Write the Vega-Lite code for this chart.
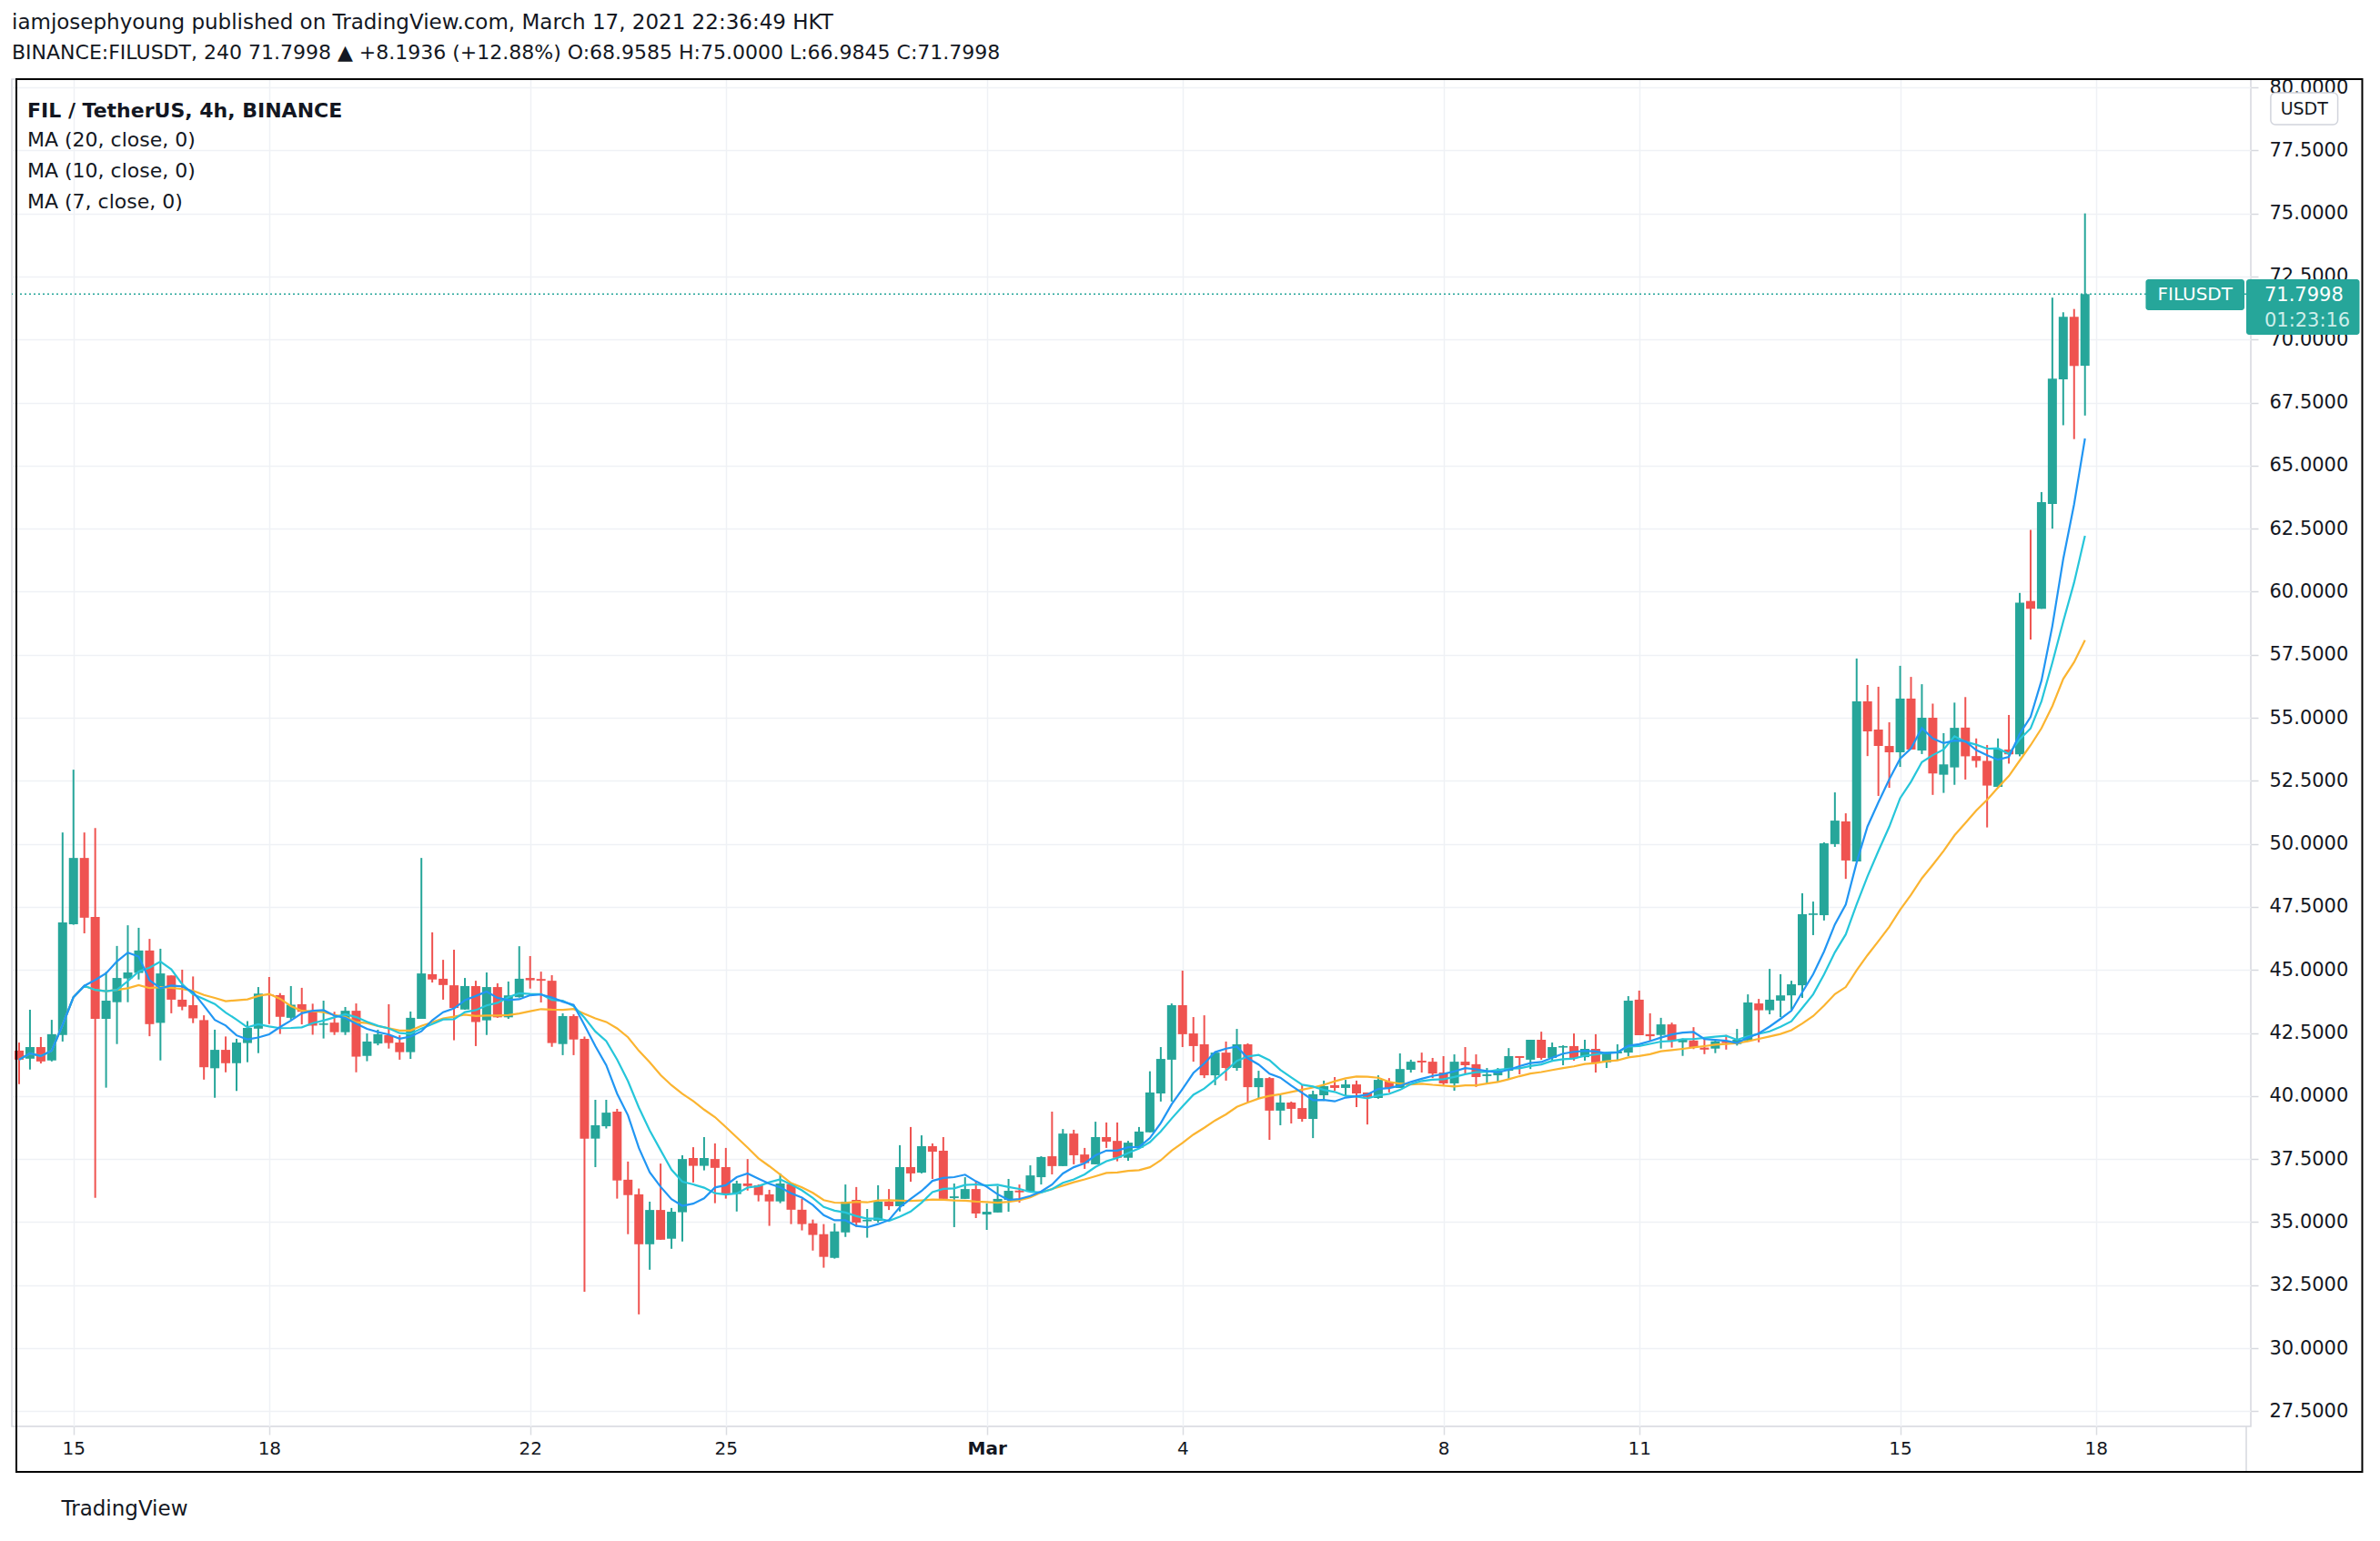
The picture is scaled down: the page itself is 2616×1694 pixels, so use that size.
{
  "$schema": "https://vega.github.io/schema/vega-lite/v6.json",
  "width": 2461,
  "height": 1481,
  "autosize": {"type": "none"},
  "padding": {"left": 13, "top": 87, "right": 142, "bottom": 126},
  "background": "#ffffff",
  "config": {
    "font": "DejaVu Sans",
    "view": {"stroke": "#d6d8de", "strokeWidth": 1.5},
    "axis": {"labelColor": "#131722", "labelFontSize": 20, "gridColor": "#eff1f5", "gridWidth": 1.5}
  },
  "title": {
    "text": "iamjosephyoung published on TradingView.com, March 17, 2021 22:36:49 HKT",
    "subtitle": "BINANCE:FILUSDT, 240 71.7998 ▲ +8.1936 (+12.88%) O:68.9585 H:75.0000 L:66.9845 C:71.7998",
    "anchor": "start",
    "frame": "group",
    "fontSize": 23,
    "fontWeight": "normal",
    "color": "#131722",
    "subtitleFontSize": 22,
    "subtitleColor": "#131722",
    "subtitleFontWeight": "normal",
    "offset": 16,
    "subtitlePadding": 11
  },
  "datasets": {
    "candles": [
      {"t": "2021-02-14T04:00Z", "o": 41.80, "h": 42.12, "l": 40.47, "c": 41.44},
      {"t": "2021-02-14T08:00Z", "o": 41.48, "h": 43.42, "l": 41.05, "c": 41.94},
      {"t": "2021-02-14T12:00Z", "o": 41.94, "h": 42.34, "l": 41.29, "c": 41.37},
      {"t": "2021-02-14T16:00Z", "o": 41.41, "h": 43.02, "l": 41.37, "c": 42.45},
      {"t": "2021-02-14T20:00Z", "o": 42.42, "h": 50.45, "l": 42.16, "c": 46.88},
      {"t": "2021-02-15T00:00Z", "o": 46.81, "h": 52.94, "l": 46.79, "c": 49.44},
      {"t": "2021-02-15T04:00Z", "o": 49.44, "h": 50.45, "l": 46.45, "c": 47.07},
      {"t": "2021-02-15T08:00Z", "o": 47.10, "h": 50.63, "l": 35.96, "c": 43.06},
      {"t": "2021-02-15T12:00Z", "o": 43.06, "h": 44.92, "l": 40.33, "c": 43.78},
      {"t": "2021-02-15T16:00Z", "o": 43.72, "h": 45.95, "l": 42.06, "c": 44.68},
      {"t": "2021-02-15T20:00Z", "o": 44.66, "h": 46.77, "l": 43.72, "c": 44.90},
      {"t": "2021-02-16T00:00Z", "o": 44.88, "h": 46.67, "l": 44.62, "c": 45.77},
      {"t": "2021-02-16T04:00Z", "o": 45.77, "h": 46.23, "l": 42.37, "c": 42.85},
      {"t": "2021-02-16T08:00Z", "o": 42.90, "h": 45.84, "l": 41.41, "c": 44.86},
      {"t": "2021-02-16T12:00Z", "o": 44.78, "h": 44.78, "l": 43.28, "c": 43.82},
      {"t": "2021-02-16T16:00Z", "o": 43.82, "h": 45.01, "l": 43.40, "c": 43.54},
      {"t": "2021-02-16T20:00Z", "o": 43.60, "h": 44.74, "l": 42.89, "c": 43.08},
      {"t": "2021-02-17T00:00Z", "o": 43.01, "h": 43.20, "l": 40.65, "c": 41.14},
      {"t": "2021-02-17T04:00Z", "o": 41.10, "h": 42.63, "l": 39.93, "c": 41.83},
      {"t": "2021-02-17T08:00Z", "o": 41.83, "h": 42.36, "l": 40.94, "c": 41.30},
      {"t": "2021-02-17T12:00Z", "o": 41.30, "h": 42.27, "l": 40.20, "c": 42.12},
      {"t": "2021-02-17T16:00Z", "o": 42.10, "h": 42.97, "l": 41.34, "c": 42.70},
      {"t": "2021-02-17T20:00Z", "o": 42.67, "h": 44.32, "l": 41.70, "c": 44.06},
      {"t": "2021-02-18T00:00Z", "o": 44.02, "h": 44.72, "l": 42.85, "c": 43.99},
      {"t": "2021-02-18T04:00Z", "o": 44.00, "h": 44.08, "l": 42.46, "c": 43.14},
      {"t": "2021-02-18T08:00Z", "o": 43.10, "h": 44.36, "l": 43.02, "c": 43.62},
      {"t": "2021-02-18T12:00Z", "o": 43.64, "h": 44.29, "l": 42.84, "c": 43.34},
      {"t": "2021-02-18T16:00Z", "o": 43.34, "h": 43.66, "l": 42.43, "c": 42.79},
      {"t": "2021-02-18T20:00Z", "o": 42.82, "h": 43.78, "l": 42.28, "c": 42.88},
      {"t": "2021-02-19T00:00Z", "o": 42.91, "h": 43.34, "l": 42.42, "c": 42.53},
      {"t": "2021-02-19T04:00Z", "o": 42.53, "h": 43.53, "l": 42.42, "c": 43.38},
      {"t": "2021-02-19T08:00Z", "o": 43.38, "h": 43.67, "l": 40.94, "c": 41.56},
      {"t": "2021-02-19T12:00Z", "o": 41.59, "h": 42.48, "l": 41.38, "c": 42.16},
      {"t": "2021-02-19T16:00Z", "o": 42.08, "h": 42.63, "l": 42.01, "c": 42.45},
      {"t": "2021-02-19T20:00Z", "o": 42.41, "h": 43.64, "l": 41.88, "c": 42.10},
      {"t": "2021-02-20T00:00Z", "o": 42.12, "h": 42.41, "l": 41.44, "c": 41.74},
      {"t": "2021-02-20T04:00Z", "o": 41.74, "h": 43.35, "l": 41.47, "c": 43.10},
      {"t": "2021-02-20T08:00Z", "o": 43.06, "h": 49.44, "l": 43.06, "c": 44.86},
      {"t": "2021-02-20T12:00Z", "o": 44.83, "h": 46.49, "l": 44.50, "c": 44.62},
      {"t": "2021-02-20T16:00Z", "o": 44.65, "h": 45.40, "l": 43.82, "c": 44.40},
      {"t": "2021-02-20T20:00Z", "o": 44.39, "h": 45.80, "l": 42.21, "c": 43.49},
      {"t": "2021-02-21T00:00Z", "o": 43.43, "h": 44.68, "l": 43.42, "c": 44.36},
      {"t": "2021-02-21T04:00Z", "o": 44.36, "h": 44.57, "l": 41.98, "c": 42.93},
      {"t": "2021-02-21T08:00Z", "o": 43.00, "h": 44.90, "l": 42.42, "c": 44.32},
      {"t": "2021-02-21T12:00Z", "o": 44.32, "h": 44.47, "l": 43.10, "c": 43.12},
      {"t": "2021-02-21T16:00Z", "o": 43.12, "h": 44.54, "l": 43.06, "c": 43.99},
      {"t": "2021-02-21T20:00Z", "o": 43.92, "h": 45.94, "l": 43.90, "c": 44.65},
      {"t": "2021-02-22T00:00Z", "o": 44.68, "h": 45.55, "l": 44.26, "c": 44.59},
      {"t": "2021-02-22T04:00Z", "o": 44.64, "h": 44.93, "l": 43.71, "c": 44.57},
      {"t": "2021-02-22T08:00Z", "o": 44.57, "h": 44.79, "l": 41.95, "c": 42.10},
      {"t": "2021-02-22T12:00Z", "o": 42.06, "h": 43.28, "l": 41.62, "c": 43.17},
      {"t": "2021-02-22T16:00Z", "o": 43.17, "h": 43.24, "l": 41.62, "c": 42.24},
      {"t": "2021-02-22T20:00Z", "o": 42.27, "h": 42.36, "l": 32.24, "c": 38.31},
      {"t": "2021-02-23T00:00Z", "o": 38.31, "h": 39.85, "l": 37.18, "c": 38.84},
      {"t": "2021-02-23T04:00Z", "o": 38.80, "h": 39.85, "l": 38.71, "c": 39.34},
      {"t": "2021-02-23T08:00Z", "o": 39.38, "h": 39.49, "l": 35.93, "c": 36.65},
      {"t": "2021-02-23T12:00Z", "o": 36.68, "h": 37.40, "l": 34.52, "c": 36.07},
      {"t": "2021-02-23T16:00Z", "o": 36.10, "h": 36.33, "l": 31.34, "c": 34.12},
      {"t": "2021-02-23T20:00Z", "o": 34.12, "h": 35.81, "l": 33.11, "c": 35.48},
      {"t": "2021-02-24T00:00Z", "o": 35.48, "h": 37.32, "l": 34.30, "c": 34.30},
      {"t": "2021-02-24T04:00Z", "o": 34.34, "h": 35.56, "l": 33.94, "c": 35.41},
      {"t": "2021-02-24T08:00Z", "o": 35.39, "h": 37.65, "l": 34.23, "c": 37.50},
      {"t": "2021-02-24T12:00Z", "o": 37.54, "h": 37.97, "l": 36.57, "c": 37.23},
      {"t": "2021-02-24T16:00Z", "o": 37.23, "h": 38.37, "l": 37.05, "c": 37.54},
      {"t": "2021-02-24T20:00Z", "o": 37.50, "h": 38.12, "l": 35.75, "c": 37.15},
      {"t": "2021-02-25T00:00Z", "o": 37.18, "h": 37.94, "l": 35.93, "c": 36.11},
      {"t": "2021-02-25T04:00Z", "o": 36.11, "h": 36.64, "l": 35.42, "c": 36.53},
      {"t": "2021-02-25T08:00Z", "o": 36.53, "h": 37.50, "l": 36.25, "c": 36.43},
      {"t": "2021-02-25T12:00Z", "o": 36.46, "h": 36.49, "l": 35.82, "c": 36.07},
      {"t": "2021-02-25T16:00Z", "o": 36.10, "h": 36.28, "l": 34.85, "c": 35.82},
      {"t": "2021-02-25T20:00Z", "o": 35.82, "h": 36.93, "l": 35.75, "c": 36.53},
      {"t": "2021-02-26T00:00Z", "o": 36.51, "h": 36.54, "l": 34.92, "c": 35.49},
      {"t": "2021-02-26T04:00Z", "o": 35.49, "h": 35.93, "l": 34.67, "c": 34.92},
      {"t": "2021-02-26T08:00Z", "o": 34.95, "h": 35.10, "l": 33.87, "c": 34.49},
      {"t": "2021-02-26T12:00Z", "o": 34.52, "h": 34.92, "l": 33.19, "c": 33.62},
      {"t": "2021-02-26T16:00Z", "o": 33.58, "h": 34.95, "l": 33.55, "c": 34.63},
      {"t": "2021-02-26T20:00Z", "o": 34.59, "h": 36.49, "l": 34.41, "c": 35.81},
      {"t": "2021-02-27T00:00Z", "o": 35.88, "h": 36.39, "l": 34.81, "c": 34.98},
      {"t": "2021-02-27T04:00Z", "o": 35.03, "h": 35.52, "l": 34.38, "c": 35.09},
      {"t": "2021-02-27T08:00Z", "o": 35.05, "h": 36.46, "l": 34.98, "c": 35.81},
      {"t": "2021-02-27T12:00Z", "o": 35.81, "h": 36.31, "l": 35.48, "c": 35.63},
      {"t": "2021-02-27T16:00Z", "o": 35.63, "h": 38.05, "l": 35.42, "c": 37.18},
      {"t": "2021-02-27T20:00Z", "o": 37.18, "h": 38.77, "l": 36.60, "c": 36.93},
      {"t": "2021-02-28T00:00Z", "o": 36.96, "h": 38.44, "l": 36.93, "c": 38.01},
      {"t": "2021-02-28T04:00Z", "o": 38.01, "h": 38.12, "l": 36.71, "c": 37.79},
      {"t": "2021-02-28T08:00Z", "o": 37.83, "h": 38.37, "l": 35.92, "c": 35.92},
      {"t": "2021-02-28T12:00Z", "o": 35.95, "h": 36.53, "l": 34.80, "c": 36.02},
      {"t": "2021-02-28T16:00Z", "o": 35.92, "h": 36.78, "l": 35.92, "c": 36.31},
      {"t": "2021-02-28T20:00Z", "o": 36.31, "h": 36.60, "l": 35.16, "c": 35.34},
      {"t": "2021-03-01T00:00Z", "o": 35.30, "h": 35.74, "l": 34.69, "c": 35.41},
      {"t": "2021-03-01T04:00Z", "o": 35.38, "h": 36.42, "l": 35.38, "c": 35.92},
      {"t": "2021-03-01T08:00Z", "o": 35.88, "h": 36.71, "l": 35.41, "c": 36.24},
      {"t": "2021-03-01T12:00Z", "o": 36.25, "h": 36.49, "l": 35.77, "c": 36.18},
      {"t": "2021-03-01T16:00Z", "o": 36.20, "h": 37.25, "l": 36.20, "c": 36.85},
      {"t": "2021-03-01T20:00Z", "o": 36.78, "h": 37.61, "l": 36.49, "c": 37.58},
      {"t": "2021-03-02T00:00Z", "o": 37.61, "h": 39.38, "l": 36.89, "c": 37.22},
      {"t": "2021-03-02T04:00Z", "o": 37.22, "h": 38.69, "l": 37.22, "c": 38.51},
      {"t": "2021-03-02T08:00Z", "o": 38.51, "h": 38.66, "l": 37.29, "c": 37.65},
      {"t": "2021-03-02T12:00Z", "o": 37.68, "h": 37.94, "l": 37.11, "c": 37.34},
      {"t": "2021-03-02T16:00Z", "o": 37.29, "h": 38.98, "l": 37.29, "c": 38.37},
      {"t": "2021-03-02T20:00Z", "o": 38.37, "h": 38.95, "l": 37.94, "c": 38.19},
      {"t": "2021-03-03T00:00Z", "o": 38.22, "h": 38.95, "l": 37.41, "c": 37.55},
      {"t": "2021-03-03T04:00Z", "o": 37.55, "h": 38.22, "l": 37.43, "c": 38.15},
      {"t": "2021-03-03T08:00Z", "o": 37.95, "h": 38.77, "l": 37.95, "c": 38.59},
      {"t": "2021-03-03T12:00Z", "o": 38.56, "h": 40.98, "l": 38.56, "c": 40.14},
      {"t": "2021-03-03T16:00Z", "o": 40.10, "h": 41.94, "l": 39.78, "c": 41.47},
      {"t": "2021-03-03T20:00Z", "o": 41.44, "h": 43.67, "l": 39.78, "c": 43.60},
      {"t": "2021-03-04T00:00Z", "o": 43.60, "h": 44.97, "l": 41.94, "c": 42.45},
      {"t": "2021-03-04T04:00Z", "o": 42.48, "h": 43.13, "l": 41.36, "c": 41.98},
      {"t": "2021-03-04T08:00Z", "o": 42.05, "h": 43.20, "l": 40.71, "c": 40.82},
      {"t": "2021-03-04T12:00Z", "o": 40.82, "h": 41.72, "l": 40.43, "c": 41.72},
      {"t": "2021-03-04T16:00Z", "o": 41.72, "h": 42.16, "l": 40.61, "c": 41.11},
      {"t": "2021-03-04T20:00Z", "o": 41.11, "h": 42.66, "l": 41.00, "c": 42.05},
      {"t": "2021-03-05T00:00Z", "o": 42.05, "h": 42.09, "l": 39.74, "c": 40.35},
      {"t": "2021-03-05T04:00Z", "o": 40.35, "h": 41.00, "l": 39.92, "c": 40.71},
      {"t": "2021-03-05T08:00Z", "o": 40.71, "h": 40.75, "l": 38.26, "c": 39.42},
      {"t": "2021-03-05T12:00Z", "o": 39.42, "h": 40.03, "l": 38.84, "c": 39.74},
      {"t": "2021-03-05T16:00Z", "o": 39.74, "h": 39.78, "l": 38.91, "c": 39.49},
      {"t": "2021-03-05T20:00Z", "o": 39.52, "h": 40.43, "l": 38.98, "c": 39.09},
      {"t": "2021-03-06T00:00Z", "o": 39.09, "h": 40.21, "l": 38.33, "c": 40.07},
      {"t": "2021-03-06T04:00Z", "o": 40.03, "h": 40.61, "l": 39.81, "c": 40.39},
      {"t": "2021-03-06T08:00Z", "o": 40.43, "h": 40.75, "l": 40.21, "c": 40.32},
      {"t": "2021-03-06T12:00Z", "o": 40.32, "h": 40.64, "l": 40.03, "c": 40.46},
      {"t": "2021-03-06T16:00Z", "o": 40.46, "h": 40.61, "l": 39.56, "c": 40.10},
      {"t": "2021-03-06T20:00Z", "o": 40.14, "h": 40.14, "l": 38.87, "c": 39.96},
      {"t": "2021-03-07T00:00Z", "o": 39.92, "h": 40.82, "l": 39.89, "c": 40.64},
      {"t": "2021-03-07T04:00Z", "o": 40.57, "h": 40.71, "l": 40.14, "c": 40.32},
      {"t": "2021-03-07T08:00Z", "o": 40.32, "h": 41.69, "l": 40.32, "c": 41.07},
      {"t": "2021-03-07T12:00Z", "o": 41.04, "h": 41.44, "l": 40.93, "c": 41.36},
      {"t": "2021-03-07T16:00Z", "o": 41.40, "h": 41.72, "l": 40.93, "c": 41.33},
      {"t": "2021-03-07T20:00Z", "o": 41.36, "h": 41.51, "l": 40.71, "c": 40.89},
      {"t": "2021-03-08T00:00Z", "o": 40.93, "h": 41.58, "l": 40.43, "c": 40.50},
      {"t": "2021-03-08T04:00Z", "o": 40.50, "h": 41.65, "l": 40.21, "c": 41.36},
      {"t": "2021-03-08T08:00Z", "o": 41.36, "h": 41.94, "l": 40.89, "c": 41.22},
      {"t": "2021-03-08T12:00Z", "o": 41.26, "h": 41.65, "l": 40.36, "c": 40.75},
      {"t": "2021-03-08T16:00Z", "o": 40.79, "h": 41.11, "l": 40.50, "c": 40.86},
      {"t": "2021-03-08T20:00Z", "o": 40.82, "h": 41.11, "l": 40.57, "c": 41.00},
      {"t": "2021-03-09T00:00Z", "o": 41.00, "h": 41.90, "l": 40.68, "c": 41.58},
      {"t": "2021-03-09T04:00Z", "o": 41.58, "h": 41.58, "l": 40.86, "c": 41.51},
      {"t": "2021-03-09T08:00Z", "o": 41.44, "h": 42.23, "l": 41.07, "c": 42.23},
      {"t": "2021-03-09T12:00Z", "o": 42.23, "h": 42.55, "l": 41.44, "c": 41.51},
      {"t": "2021-03-09T16:00Z", "o": 41.51, "h": 42.12, "l": 41.36, "c": 41.94},
      {"t": "2021-03-09T20:00Z", "o": 41.92, "h": 42.01, "l": 41.22, "c": 41.98},
      {"t": "2021-03-10T00:00Z", "o": 41.98, "h": 42.48, "l": 41.40, "c": 41.51},
      {"t": "2021-03-10T04:00Z", "o": 41.54, "h": 42.23, "l": 41.40, "c": 41.87},
      {"t": "2021-03-10T08:00Z", "o": 41.87, "h": 42.45, "l": 40.93, "c": 41.33},
      {"t": "2021-03-10T12:00Z", "o": 41.33, "h": 41.76, "l": 41.11, "c": 41.72},
      {"t": "2021-03-10T16:00Z", "o": 41.69, "h": 42.05, "l": 41.40, "c": 41.76},
      {"t": "2021-03-10T20:00Z", "o": 41.72, "h": 43.96, "l": 41.58, "c": 43.78},
      {"t": "2021-03-11T00:00Z", "o": 43.82, "h": 44.18, "l": 42.41, "c": 42.41},
      {"t": "2021-03-11T04:00Z", "o": 42.45, "h": 43.28, "l": 42.16, "c": 42.37},
      {"t": "2021-03-11T08:00Z", "o": 42.42, "h": 43.10, "l": 41.88, "c": 42.84},
      {"t": "2021-03-11T12:00Z", "o": 42.84, "h": 42.91, "l": 41.92, "c": 42.20},
      {"t": "2021-03-11T16:00Z", "o": 42.13, "h": 42.28, "l": 41.59, "c": 42.24},
      {"t": "2021-03-11T20:00Z", "o": 42.20, "h": 42.73, "l": 41.86, "c": 41.92},
      {"t": "2021-03-12T00:00Z", "o": 41.92, "h": 42.31, "l": 41.66, "c": 41.84},
      {"t": "2021-03-12T04:00Z", "o": 41.88, "h": 42.24, "l": 41.70, "c": 42.17},
      {"t": "2021-03-12T08:00Z", "o": 42.17, "h": 42.42, "l": 41.84, "c": 42.10},
      {"t": "2021-03-12T12:00Z", "o": 42.06, "h": 42.66, "l": 42.00, "c": 42.23},
      {"t": "2021-03-12T16:00Z", "o": 42.20, "h": 44.03, "l": 42.20, "c": 43.71},
      {"t": "2021-03-12T20:00Z", "o": 43.67, "h": 43.85, "l": 42.13, "c": 43.40},
      {"t": "2021-03-13T00:00Z", "o": 43.40, "h": 45.04, "l": 43.24, "c": 43.82},
      {"t": "2021-03-13T04:00Z", "o": 43.78, "h": 44.83, "l": 43.13, "c": 43.99},
      {"t": "2021-03-13T08:00Z", "o": 43.99, "h": 44.57, "l": 43.42, "c": 44.43},
      {"t": "2021-03-13T12:00Z", "o": 44.39, "h": 48.04, "l": 43.89, "c": 47.21},
      {"t": "2021-03-13T16:00Z", "o": 47.18, "h": 47.71, "l": 46.38, "c": 47.24},
      {"t": "2021-03-13T20:00Z", "o": 47.17, "h": 50.06, "l": 46.96, "c": 50.02},
      {"t": "2021-03-14T00:00Z", "o": 49.99, "h": 52.04, "l": 49.88, "c": 50.92},
      {"t": "2021-03-14T04:00Z", "o": 50.89, "h": 51.21, "l": 48.61, "c": 49.34},
      {"t": "2021-03-14T08:00Z", "o": 49.30, "h": 57.35, "l": 49.30, "c": 55.65},
      {"t": "2021-03-14T12:00Z", "o": 55.65, "h": 56.30, "l": 53.48, "c": 54.46},
      {"t": "2021-03-14T16:00Z", "o": 54.53, "h": 56.23, "l": 51.90, "c": 53.88},
      {"t": "2021-03-14T20:00Z", "o": 53.88, "h": 54.82, "l": 52.22, "c": 53.63},
      {"t": "2021-03-15T00:00Z", "o": 53.63, "h": 57.06, "l": 53.05, "c": 55.76},
      {"t": "2021-03-15T04:00Z", "o": 55.76, "h": 56.62, "l": 53.74, "c": 53.74},
      {"t": "2021-03-15T08:00Z", "o": 53.70, "h": 56.33, "l": 53.56, "c": 55.00},
      {"t": "2021-03-15T12:00Z", "o": 55.00, "h": 55.56, "l": 51.94, "c": 52.79},
      {"t": "2021-03-15T16:00Z", "o": 52.74, "h": 54.39, "l": 52.02, "c": 53.15},
      {"t": "2021-03-15T20:00Z", "o": 53.03, "h": 55.60, "l": 52.34, "c": 54.60},
      {"t": "2021-03-16T00:00Z", "o": 54.61, "h": 55.82, "l": 52.55, "c": 53.47},
      {"t": "2021-03-16T04:00Z", "o": 53.48, "h": 54.18, "l": 53.03, "c": 53.29},
      {"t": "2021-03-16T08:00Z", "o": 53.29, "h": 53.92, "l": 50.65, "c": 52.31},
      {"t": "2021-03-16T12:00Z", "o": 52.26, "h": 54.18, "l": 52.21, "c": 53.74},
      {"t": "2021-03-16T16:00Z", "o": 53.74, "h": 55.11, "l": 53.18, "c": 53.55},
      {"t": "2021-03-16T20:00Z", "o": 53.55, "h": 59.95, "l": 53.47, "c": 59.56},
      {"t": "2021-03-17T00:00Z", "o": 59.63, "h": 62.45, "l": 58.10, "c": 59.32},
      {"t": "2021-03-17T04:00Z", "o": 59.32, "h": 63.95, "l": 59.32, "c": 63.55},
      {"t": "2021-03-17T08:00Z", "o": 63.48, "h": 71.66, "l": 62.50, "c": 68.45},
      {"t": "2021-03-17T12:00Z", "o": 68.42, "h": 71.08, "l": 66.60, "c": 70.90},
      {"t": "2021-03-17T16:00Z", "o": 70.90, "h": 71.21, "l": 66.05, "c": 68.95},
      {"t": "2021-03-17T20:00Z", "o": 68.9585, "h": 75.0, "l": 66.9845, "c": 71.7998}
    ]
  },
  "layer": [
    {
      "data": {"name": "candles"},
      "mark": {"type": "rule", "strokeWidth": 2, "clip": true},
      "encoding": {
        "x": {
          "field": "t",
          "type": "temporal",
          "scale": {"type": "utc", "nice": false, "domain": [1613271600000, 1616224800000]},
          "axis": {
            "values": [1613347200000, 1613606400000, 1613952000000, 1614211200000, 1614556800000, 1614816000000, 1615161600000, 1615420800000, 1615766400000, 1616025600000],
            "labelExpr": "utcdate(datum.value) == 1 ? 'Mar' : utcFormat(datum.value, '%-d')",
            "labelFontWeight": {"condition": {"test": "utcdate(datum.value) == 1", "value": "bold"}, "value": "normal"},
            "grid": true,
            "ticks": true,
            "tickColor": "#dadce1",
            "tickSize": 9,
            "tickWidth": 1.5,
            "domain": false,
            "labelPadding": 5,
            "labelFlush": false,
            "labelOverlap": false,
            "title": "TradingView",
            "titleX": 54,
            "titleY": 90,
            "titleAlign": "left",
            "titleAnchor": "start",
            "titleBaseline": "middle",
            "titleFontSize": 23,
            "titleFontWeight": "normal",
            "titleColor": "#131722"
          }
        },
        "y": {
          "field": "l",
          "type": "quantitative",
          "scale": {"domain": [26.898, 80.325], "nice": false, "zero": false},
          "axis": {
            "orient": "right",
            "title": null,
            "values": [27.5, 30, 32.5, 35, 37.5, 40, 42.5, 45, 47.5, 50, 52.5, 55, 57.5, 60, 62.5, 65, 67.5, 70, 72.5, 75, 77.5, 80],
            "format": ".4f",
            "grid": true,
            "domain": false,
            "tickColor": "#d6d8de",
            "tickSize": 8,
            "tickWidth": 1.5,
            "labelPadding": 12,
            "labelFontSize": 21,
            "labelOverlap": false
          }
        },
        "y2": {"field": "h"},
        "color": {"condition": {"test": "datum.c >= datum.o", "value": "#26a69a"}, "value": "#ef5350"}
      }
    },
    {
      "data": {"name": "candles"},
      "mark": {"type": "bar", "width": 10, "clip": true},
      "encoding": {
        "x": {"field": "t", "type": "temporal"},
        "y": {"field": "o", "type": "quantitative"},
        "y2": {"field": "c"},
        "color": {"condition": {"test": "datum.c >= datum.o", "value": "#26a69a"}, "value": "#ef5350"}
      }
    },
    {
      "data": {"name": "candles"},
      "transform": [
        {"window": [{"op": "mean", "field": "c", "as": "ma7"}], "frame": [-6, 0], "sort": [{"field": "t"}]},
        {"window": [{"op": "mean", "field": "c", "as": "ma10"}], "frame": [-9, 0], "sort": [{"field": "t"}]},
        {"window": [{"op": "mean", "field": "c", "as": "ma20"}], "frame": [-19, 0], "sort": [{"field": "t"}]},
        {"fold": ["ma20", "ma10", "ma7"], "as": ["ma", "v"]}
      ],
      "mark": {"type": "line", "strokeWidth": 2.2, "clip": true},
      "encoding": {
        "x": {"field": "t", "type": "temporal"},
        "y": {"field": "v", "type": "quantitative"},
        "color": {
          "field": "ma",
          "type": "nominal",
          "scale": {"domain": ["ma20", "ma10", "ma7"], "range": ["#fbb430", "#26c6da", "#2196f3"]},
          "legend": {
            "orient": "none",
            "legendX": 17,
            "legendY": 25,
            "title": "FIL / TetherUS, 4h, BINANCE",
            "titleFontSize": 22,
            "titleFontWeight": "bold",
            "titleColor": "#131722",
            "titlePadding": 9,
            "titleLimit": 800,
            "labelFontSize": 22,
            "labelColor": "#131722",
            "labelOffset": -22,
            "labelLimit": 600,
            "labelBaseline": "middle",
            "labelExpr": "datum.label == 'ma20' ? 'MA (20, close, 0)' : datum.label == 'ma10' ? 'MA (10, close, 0)' : 'MA (7, close, 0)'",
            "symbolSize": 0,
            "symbolOpacity": 0,
            "symbolStrokeWidth": 0,
            "rowPadding": 12,
            "padding": 0
          }
        }
      }
    },
    {
      "data": {"values": [{}]},
      "mark": {"type": "rule", "color": "#26a69a", "strokeWidth": 1.5, "strokeDash": [2, 3]},
      "encoding": {"y": {"datum": 71.7998, "type": "quantitative"}}
    },
    {
      "data": {"values": [{}]},
      "mark": {"type": "rule", "color": "#d6d8de", "strokeWidth": 1.5, "clip": false},
      "encoding": {
        "x": {"datum": 1616224800000, "type": "temporal"},
        "y": {"datum": 26.898, "type": "quantitative"},
        "y2": {"datum": 25.09}
      }
    },
    {
      "data": {"values": [{}]},
      "mark": {"type": "rect", "color": "#26a69a", "cornerRadius": 3, "clip": false},
      "encoding": {
        "x": {"datum": 1616091600000, "type": "temporal"},
        "x2": {"datum": 1616222400000},
        "y": {"datum": 72.39, "type": "quantitative"},
        "y2": {"datum": 71.16}
      }
    },
    {
      "data": {"values": [{}]},
      "mark": {"type": "text", "text": "FILUSDT", "color": "#ffffff", "fontSize": 20, "align": "center", "baseline": "middle", "clip": false},
      "encoding": {
        "x": {"datum": 1616157000000, "type": "temporal"},
        "y": {"datum": 71.77, "type": "quantitative"}
      }
    },
    {
      "data": {"values": [{}]},
      "mark": {"type": "rect", "color": "#26a69a", "cornerRadius": 3, "clip": false},
      "encoding": {
        "x": {"datum": 1616224800000, "type": "temporal"},
        "x2": {"datum": 1616374800000},
        "y": {"datum": 72.39, "type": "quantitative"},
        "y2": {"datum": 70.19}
      }
    },
    {
      "data": {"values": [{}]},
      "mark": {"type": "text", "text": "71.7998", "color": "#ffffff", "fontSize": 21, "align": "left", "baseline": "middle", "clip": false},
      "encoding": {
        "x": {"datum": 1616248800000, "type": "temporal"},
        "y": {"datum": 71.74, "type": "quantitative"}
      }
    },
    {
      "data": {"values": [{}]},
      "mark": {"type": "text", "text": "01:23:16", "color": "#cdeeea", "fontSize": 21, "align": "left", "baseline": "middle", "clip": false},
      "encoding": {
        "x": {"datum": 1616248800000, "type": "temporal"},
        "y": {"datum": 70.73, "type": "quantitative"}
      }
    },
    {
      "data": {"values": [{}]},
      "mark": {"type": "rect", "fill": "#ffffff", "stroke": "#d1d4dc", "strokeWidth": 1.5, "cornerRadius": 5, "clip": false},
      "encoding": {
        "x": {"datum": 1616257200000, "type": "temporal"},
        "x2": {"datum": 1616346000000},
        "y": {"datum": 79.78, "type": "quantitative"},
        "y2": {"datum": 78.52}
      }
    },
    {
      "data": {"values": [{}]},
      "mark": {"type": "text", "text": "USDT", "color": "#131722", "fontSize": 19, "align": "center", "baseline": "middle", "clip": false},
      "encoding": {
        "x": {"datum": 1616301600000, "type": "temporal"},
        "y": {"datum": 79.15, "type": "quantitative"}
      }
    },
    {
      "data": {"values": [{}]},
      "mark": {"type": "rect", "fillOpacity": 0, "stroke": "#000000", "strokeWidth": 2, "clip": false},
      "encoding": {
        "x": {"datum": 1613271600000, "type": "temporal"},
        "x2": {"datum": 1616378400000},
        "y": {"datum": 80.325, "type": "quantitative"},
        "y2": {"datum": 25.09}
      }
    }
  ]
}
